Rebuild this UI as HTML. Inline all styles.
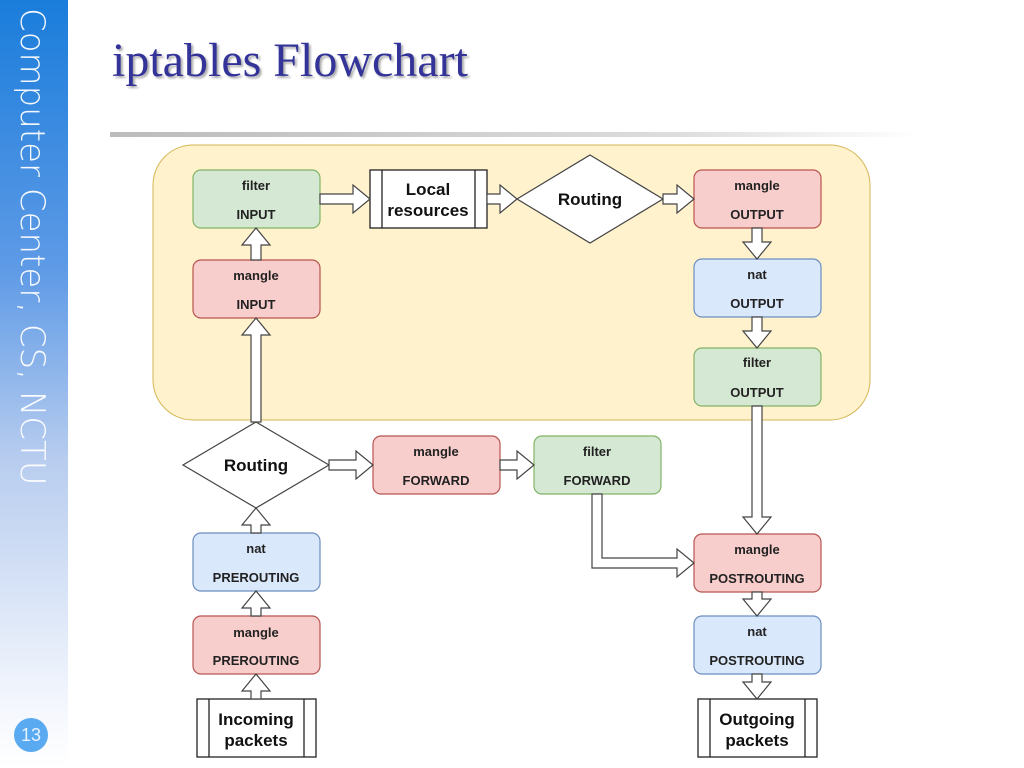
<!DOCTYPE html>
<html><head><meta charset="utf-8"><style>
body{margin:0;width:1024px;height:768px;overflow:hidden;background:#fff;position:relative;font-family:"Liberation Sans",sans-serif}
#side{position:absolute;left:0;top:0;width:68px;height:768px;background:linear-gradient(#1a7ddb 0%,#5e9ae6 35%,#b8cdef 60%,#f4f7fd 92%,#fff 100%)}
#vt{position:absolute;left:12px;top:8px;writing-mode:vertical-rl;color:#fff;font-size:34px;font-family:"DejaVu Sans","Liberation Sans",sans-serif;font-weight:200;letter-spacing:0px;white-space:nowrap;opacity:.95}
#num{position:absolute;left:14px;top:718px;width:34px;height:34px;border-radius:50%;background:#5aaaf2;color:#e8f3ff;font-size:18px;text-align:center;line-height:34px}
#title{position:absolute;left:112px;top:33px;font-family:"Liberation Serif",serif;font-size:48px;color:#333399;text-shadow:2px 2px 2px #aaa}
#rule{position:absolute;left:110px;top:132px;width:810px;height:5px;background:linear-gradient(90deg,#bbb,#ddd 70%,#fff)}
svg{position:absolute;left:0;top:0}
</style></head><body>
<div id="side"><div id="vt">Computer Center, CS, NCTU</div></div>
<div id="num">13</div>
<div id="title">iptables Flowchart</div>
<div id="rule"></div>
<svg width="1024" height="768" font-family="Liberation Sans, sans-serif" font-weight="bold">
<rect x="153" y="145" width="717" height="275" rx="40" fill="#fff2cc" stroke="#d6b656"/>
<g stroke-width="1.2">
<rect x="193" y="170" width="127" height="58" rx="8" fill="#d5e8d4" stroke="#82b366"/>
<rect x="193" y="260" width="127" height="58" rx="8" fill="#f8cecc" stroke="#b85450"/>
<rect x="694" y="170" width="127" height="58" rx="8" fill="#f8cecc" stroke="#b85450"/>
<rect x="694" y="259" width="127" height="58" rx="8" fill="#dae8fc" stroke="#6c8ebf"/>
<rect x="694" y="348" width="127" height="58" rx="8" fill="#d5e8d4" stroke="#82b366"/>
<rect x="373" y="436" width="127" height="58" rx="8" fill="#f8cecc" stroke="#b85450"/>
<rect x="534" y="436" width="127" height="58" rx="8" fill="#d5e8d4" stroke="#82b366"/>
<rect x="694" y="534" width="127" height="58" rx="8" fill="#f8cecc" stroke="#b85450"/>
<rect x="694" y="616" width="127" height="58" rx="8" fill="#dae8fc" stroke="#6c8ebf"/>
<rect x="193" y="533" width="127" height="58" rx="8" fill="#dae8fc" stroke="#6c8ebf"/>
<rect x="193" y="616" width="127" height="58" rx="8" fill="#f8cecc" stroke="#b85450"/>
</g>
<g fill="#fff" stroke="#222" stroke-width="1.3">
<rect x="370" y="170" width="117" height="58"/><line x1="382" y1="170" x2="382" y2="228"/><line x1="475" y1="170" x2="475" y2="228"/>
<rect x="197" y="699" width="119" height="58"/><line x1="209" y1="699" x2="209" y2="757"/><line x1="304" y1="699" x2="304" y2="757"/>
<rect x="698" y="699" width="119" height="58"/><line x1="710" y1="699" x2="710" y2="757"/><line x1="805" y1="699" x2="805" y2="757"/>
</g>
<g fill="#fff" stroke="#444" stroke-width="1.2">
<polygon points="590,155 663,199 590,243 517,199"/>
<polygon points="256,422 329,465 256,508 183,465"/>
<polygon points="320,194 353,194 353,185 370,199 353,213 353,204 320,204"/>
<polygon points="487,194 500,194 500,185 517,199 500,213 500,204 487,204"/>
<polygon points="663,194 677,194 677,185 694,199 677,213 677,204 663,204"/>
<polygon points="752,228 762,228 762,242 771,242 757,259 743,242 752,242"/>
<polygon points="752,317 762,317 762,331 771,331 757,348 743,331 752,331"/>
<polygon points="752,406 762,406 762,517 771,517 757,534 743,517 752,517"/>
<polygon points="251,260 261,260 261,245 270,245 256,228 242,245 251,245"/>
<polygon points="251,422 261,422 261,335 270,335 256,318 242,335 251,335"/>
<polygon points="251,533 261,533 261,525 270,525 256,508 242,525 251,525"/>
<polygon points="251,616 261,616 261,608 270,608 256,591 242,608 251,608"/>
<polygon points="251,699 261,699 261,691 270,691 256,674 242,691 251,691"/>
<polygon points="329,460 356,460 356,451 373,465 356,479 356,470 329,470"/>
<polygon points="500,460 517,460 517,451 534,465 517,479 517,470 500,470"/>
<polygon points="592,494 602,494 602,558 677,558 677,549 694,563 677,577 677,568 592,568"/>
<polygon points="752,592 762,592 762,599 771,599 757,616 743,599 752,599"/>
<polygon points="752,674 762,674 762,682 771,682 757,699 743,682 752,682"/>
</g>
<g font-size="13" fill="#222" text-anchor="middle">
<text x="256" y="190">filter</text><text x="256" y="219">INPUT</text>
<text x="256" y="280">mangle</text><text x="256" y="309">INPUT</text>
<text x="757" y="190">mangle</text><text x="757" y="219">OUTPUT</text>
<text x="757" y="279">nat</text><text x="757" y="308">OUTPUT</text>
<text x="757" y="367">filter</text><text x="757" y="397">OUTPUT</text>
<text x="436" y="456">mangle</text><text x="436" y="485">FORWARD</text>
<text x="597" y="456">filter</text><text x="597" y="485">FORWARD</text>
<text x="757" y="554">mangle</text><text x="757" y="583">POSTROUTING</text>
<text x="757" y="636">nat</text><text x="757" y="665">POSTROUTING</text>
<text x="256" y="553">nat</text><text x="256" y="582">PREROUTING</text>
<text x="256" y="637">mangle</text><text x="256" y="665">PREROUTING</text>
</g>
<g font-size="17" fill="#111" text-anchor="middle">
<text x="428" y="195">Local</text><text x="428" y="216">resources</text>
<text x="590" y="205">Routing</text>
<text x="256" y="471">Routing</text>
<text x="256" y="725">Incoming</text><text x="256" y="746">packets</text>
<text x="757" y="725">Outgoing</text><text x="757" y="746">packets</text>
</g>
</svg>
</body></html>
